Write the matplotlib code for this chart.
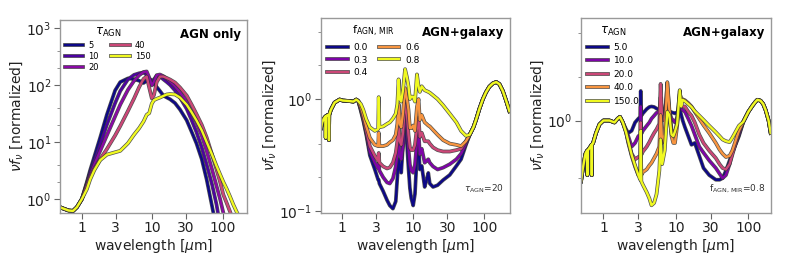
import numpy as np
import matplotlib
matplotlib.use("Agg")
import matplotlib.pyplot as plt
import matplotlib.patheffects as pe
from matplotlib.ticker import LogLocator, FixedLocator, FixedFormatter, NullLocator

# ---------------- Panel 1: AGN only ----------------
p1_labels = ["5", "10", "20", "40", "150"]
p1_wl = [0.49, 0.55, 0.65, 0.75, 0.85, 1.0, 1.18, 1.31, 1.5, 1.82, 2.26, 2.96, 3.5, 4.5, 5.5,
         6.5, 7.5, 8.3, 9.0, 9.8, 10.5, 11.5, 12.8, 14.3, 16, 17.8, 20.9, 24.6, 30.6, 36,
         42, 50, 58.7, 70, 81, 91, 101, 113, 126, 140, 156, 175]
p1_tau5 = [0.72, 0.68, 0.63, 0.62, 0.72, 1.0, 2.0, 3.2, 5.5, 12, 30, 80, 112, 130, 126,
           118, 108, 118, 128, 120, 105, 92, 78, 65, 60, 56, 48, 37, 24, 15,
           9.5, 5.0, 2.2, 0.75, 0.3, 0.12, 0.05, 0.03, 0.02, 0.01, 0.01, 0.01]
p1_tau10 = [0.72, 0.68, 0.63, 0.62, 0.72, 1.0, 1.9, 2.9, 4.6, 9, 20, 48, 78, 125, 150,
            160, 165, 150, 118, 108, 125, 145, 140, 125, 112, 100, 80, 60, 38, 24,
            15, 8, 4, 1.8, 0.8, 0.35, 0.15, 0.08, 0.04, 0.02, 0.01, 0.01]
p1_tau20 = [0.72, 0.68, 0.63, 0.62, 0.72, 1.0, 1.8, 2.6, 4.0, 7, 13, 28, 45, 82, 118,
            148, 168, 172, 135, 98, 112, 148, 152, 142, 128, 115, 95, 75, 50, 33,
            22, 13, 7, 3.3, 1.7, 1.0, 0.58, 0.3, 0.15, 0.08, 0.04, 0.02]
p1_tau40 = [0.72, 0.68, 0.63, 0.62, 0.72, 1.0, 1.7, 2.4, 3.4, 5.0, 7.5, 13, 19, 35, 58,
            92, 128, 140, 90, 58, 66, 112, 140, 140, 132, 124, 110, 90, 65, 45,
            31, 20, 12, 6, 3.3, 2.0, 1.2, 0.85, 0.6, 0.42, 0.25, 0.15]
p1_tau150 = [0.72, 0.68, 0.63, 0.62, 0.72, 1.0, 1.5, 2.2, 3.2, 4.8, 6.0, 6.6, 7.0, 9.5, 13.5,
             17.5, 23, 30, 32, 47, 54, 57, 60, 64, 68, 69, 68, 60, 45, 33,
             24, 16, 10, 6, 3.8, 2.7, 2.0, 1.5, 1.1, 0.8, 0.6, 0.45]

# ---------------- Panel 2: AGN+galaxy, tau=20, varying f_AGN,MIR ----------------
p2_labels = ["0.0", "0.3", "0.4", "0.6", "0.8"]
p2_wl_blue = [0.51, 0.53, 0.56, 0.59, 0.595, 0.60, 0.63, 0.655, 0.66, 0.665, 0.70, 0.79,
              0.93, 1.03, 1.28, 1.45, 1.59, 1.7]
p2_v_blue = [0.55, 0.62, 0.67, 0.70, 0.45, 0.70, 0.72, 0.72, 0.43, 0.72, 0.80, 0.93,
             0.99, 0.97, 0.96, 0.95, 0.99, 0.96]
p2_wl_mid = [1.85, 2.0, 2.2, 2.47, 2.9, 3.23, 3.29, 3.36, 3.8, 4.3, 4.7, 5.2, 5.7, 6.0,
             6.25, 6.5, 6.8, 7.2, 7.7, 8.2, 8.6, 9.0, 9.4, 10.0, 10.6, 11.3, 11.9, 12.4,
             13.2, 14.5, 15.4, 16.3, 17.1, 19, 22, 26.3, 32.6, 40.4, 47, 55]
p2_f00 = [0.78, 0.64, 0.48, 0.314, 0.235, 0.19, 0.19, 0.176, 0.15, 0.125, 0.112, 0.105, 0.122, 0.2,
          0.29, 0.24, 0.22, 0.39, 0.6, 0.39, 0.24, 0.16, 0.13, 0.112, 0.142, 0.314, 0.39, 0.235,
          0.253, 0.164, 0.189, 0.219, 0.176, 0.164, 0.17, 0.189, 0.21, 0.253, 0.29, 0.39]
p2_f03 = [0.80, 0.66, 0.50, 0.34, 0.27, 0.24, 0.27, 0.23, 0.20, 0.18, 0.176, 0.195, 0.25, 0.32,
          0.42, 0.32, 0.29, 0.38, 0.78, 0.55, 0.36, 0.26, 0.23, 0.22, 0.26, 0.42, 0.52, 0.32,
          0.36, 0.27, 0.28, 0.29, 0.27, 0.25, 0.235, 0.244, 0.262, 0.29, 0.325, 0.40]
p2_f04 = [0.82, 0.68, 0.52, 0.38, 0.31, 0.28, 0.33, 0.27, 0.25, 0.24, 0.245, 0.27, 0.33, 0.42,
          0.56, 0.42, 0.39, 0.50, 0.95, 0.72, 0.48, 0.37, 0.35, 0.35, 0.39, 0.56, 0.68, 0.46,
          0.50, 0.42, 0.42, 0.42, 0.40, 0.37, 0.35, 0.34, 0.34, 0.35, 0.36, 0.42]
p2_f06 = [0.85, 0.72, 0.57, 0.45, 0.39, 0.38, 0.50, 0.38, 0.38, 0.39, 0.41, 0.43, 0.48, 0.60,
          0.90, 0.60, 0.56, 0.75, 1.25, 1.00, 0.80, 0.55, 0.55, 0.58, 0.52, 0.85, 1.00, 0.65,
          0.72, 0.62, 0.60, 0.58, 0.57, 0.53, 0.48, 0.43, 0.40, 0.39, 0.38, 0.42]
p2_f08 = [0.90, 0.80, 0.66, 0.56, 0.52, 0.54, 1.04, 0.56, 0.57, 0.60, 0.62, 0.67, 0.74, 0.90,
          1.50, 1.00, 0.95, 1.20, 1.85, 1.55, 1.30, 1.00, 1.05, 1.05, 0.95, 1.66, 1.30, 1.16,
          1.30, 1.20, 1.18, 1.16, 1.14, 1.08, 1.00, 0.88, 0.74, 0.62, 0.52, 0.47]
p2_wl_red = [62, 70, 76, 85, 95, 105, 117, 131, 146, 162, 181, 200, 224]
p2_v_red = [0.48, 0.56, 0.65, 0.82, 1.0, 1.15, 1.29, 1.38, 1.42, 1.36, 1.18, 0.98, 0.78]

# ---------------- Panel 3: AGN+galaxy, f=0.8, varying tau ----------------
p3_labels = ["5.0", "10.0", "20.0", "40.0", "150.0"]
p3_wl_blue = [0.49, 0.52, 0.565, 0.595, 0.60, 0.605, 0.66, 0.685, 0.69, 0.695, 0.72, 0.79,
              0.88, 1.0, 1.21, 1.42, 1.57, 1.69, 1.85]
p3_v_blue = [0.38, 0.47, 0.59, 0.62, 0.42, 0.62, 0.66, 0.68, 0.42, 0.68, 0.70, 0.82,
             0.94, 1.0, 1.0, 0.97, 1.03, 1.06, 0.97]
p3_wl_mid = [2.05, 2.2, 2.45, 2.73, 3.03, 3.22, 3.27, 3.33, 3.5, 3.95, 4.3, 4.6, 5.0, 5.4,
             5.9, 6.15, 6.45, 7.0, 7.6, 8.1, 8.7, 9.2, 9.7, 10.4, 11.3, 11.8, 12.4, 13.3,
             14.8, 16.4, 18.2, 21, 24, 28.8, 35.5, 40, 44, 49, 55, 60, 74]
p3_t5 = [0.87, 0.82, 0.85, 0.97, 1.03, 1.06, 1.6, 1.08, 1.12, 1.2, 1.24, 1.25, 1.24, 1.21,
         1.18, 1.17, 1.15, 1.14, 1.18, 1.16, 1.14, 1.13, 1.12, 1.14, 1.2, 1.1, 1.0, 0.9,
         0.78, 0.68, 0.70, 0.57, 0.47, 0.42, 0.39, 0.39, 0.40, 0.45, 0.53, 0.60, 0.78]
p3_t10 = [0.85, 0.78, 0.66, 0.70, 0.78, 0.80, 1.25, 0.81, 0.85, 0.92, 0.97, 1.03, 1.08, 1.13,
          1.15, 1.45, 1.10, 1.15, 1.50, 1.15, 1.03, 1.00, 0.97, 1.05, 1.36, 1.22, 1.18, 1.15,
          1.03, 0.92, 0.80, 0.66, 0.60, 0.53, 0.47, 0.43, 0.40, 0.42, 0.50, 0.60, 0.80]
p3_t20 = [0.84, 0.72, 0.59, 0.54, 0.56, 0.57, 0.97, 0.58, 0.61, 0.66, 0.71, 0.76, 0.82, 0.87,
          0.95, 1.79, 1.00, 1.03, 1.79, 1.15, 0.87, 0.82, 0.80, 1.00, 1.60, 1.25, 1.25, 1.25,
          1.15, 1.08, 0.97, 0.80, 0.70, 0.62, 0.55, 0.50, 0.47, 0.46, 0.50, 0.58, 0.83]
p3_t40 = [0.83, 0.70, 0.57, 0.48, 0.42, 0.41, 0.70, 0.42, 0.44, 0.46, 0.49, 0.51, 0.55, 0.59,
          0.66, 1.09, 0.70, 0.80, 1.84, 1.21, 0.78, 0.70, 0.70, 0.92, 1.52, 1.43, 1.40, 1.38,
          1.32, 1.25, 1.15, 1.03, 0.93, 0.82, 0.70, 0.63, 0.59, 0.56, 0.57, 0.62, 0.85]
p3_t150 = [0.83, 0.72, 0.58, 0.49, 0.42, 0.39, 0.85, 0.38, 0.36, 0.32, 0.29, 0.26, 0.27, 0.31,
           0.45, 0.74, 0.50, 0.62, 1.15, 1.09, 0.80, 0.78, 0.84, 0.95, 1.62, 1.25, 1.39, 1.36,
           1.30, 1.24, 1.16, 1.08, 1.01, 0.92, 0.83, 0.78, 0.74, 0.72, 0.71, 0.76, 0.92]
p3_wl_red = [85, 92, 100, 113, 124, 133, 147, 160, 173, 190, 203]
p3_v_red = [0.98, 1.06, 1.15, 1.26, 1.34, 1.39, 1.37, 1.30, 1.18, 1.00, 0.82]

# ---------------- styling ----------------
plt.rcParams['font.family'] = ['DejaVu Sans']
c1 = ['#0d0887', '#4c02a1', '#8a09a5', '#cc4778', '#f0f921']
c5 = ['#0d0887', '#7e03a8', '#cc4778', '#f89540', '#f0f921']
stroke = [pe.Stroke(linewidth=2.7, foreground='0.2', alpha=0.85), pe.Normal()]
LW = 1.7

fig = plt.figure(figsize=(7.89, 2.63), dpi=100)
ax1 = fig.add_axes([60/789, 1-213/263, 187/789, 193/263])
ax2 = fig.add_axes([321/789, 1-213/263, 189/789, 195/263])
ax3 = fig.add_axes([581/789, 1-213/263, 190/789, 195/263])


def style(ax, xlim, ylim):
    ax.set_xscale('log')
    ax.set_yscale('log')
    ax.set_xlim(*xlim)
    ax.set_ylim(*ylim)
    ax.xaxis.set_major_locator(FixedLocator([1, 3, 10, 30, 100]))
    ax.xaxis.set_major_formatter(FixedFormatter(['1', '3', '10', '30', '100']))
    ax.xaxis.set_minor_locator(NullLocator())
    ax.yaxis.set_minor_locator(LogLocator(base=10, subs=(2.0, 4.0)))
    ax.yaxis.set_minor_formatter(plt.NullFormatter())
    for s in ax.spines.values():
        s.set_color('0.6')
        s.set_linewidth(1.0)
    ax.tick_params(axis='both', which='major', labelsize=10, length=4, color='0.4',
                   labelcolor='#222222', pad=2)
    ax.tick_params(axis='y', which='minor', length=2, color='0.5')
    ax.set_xlabel(r'wavelength [$\mu$m]', fontsize=10, color='#222222', labelpad=1)
    ax.set_ylabel(r'$\nu f_\nu$ [normalized]', fontsize=10, color='#222222', labelpad=1)


# panel 1
for vals, lab, col in zip([p1_tau5, p1_tau10, p1_tau20, p1_tau40, p1_tau150], p1_labels, c1):
    ax1.plot(p1_wl, vals, color=col, lw=LW, label=lab, path_effects=stroke)
style(ax1, (0.49, 219), (0.57, 1370))
ax1.text(0.97, 0.96, 'AGN only', transform=ax1.transAxes, ha='right', va='top',
         fontsize=8.5, fontweight='bold')
ax1.legend(loc='upper left', ncol=2, frameon=False, fontsize=6, title=r'$\tau_{\rm AGN}$',
           title_fontsize=8.5, handlelength=2.2, labelspacing=0.25, columnspacing=1.5,
           borderaxespad=0.2, handletextpad=0.6)

# panel 2
for vals, lab, col in zip([p2_f00, p2_f03, p2_f04, p2_f06, p2_f08], p2_labels, c5):
    wl = p2_wl_blue + p2_wl_mid + p2_wl_red
    vv = p2_v_blue + vals + p2_v_red
    ax2.plot(wl, vv, color=col, lw=LW, label=lab, path_effects=stroke)
style(ax2, (0.51, 228), (0.096, 5.3))
ax2.text(0.97, 0.96, 'AGN+galaxy', transform=ax2.transAxes, ha='right', va='top',
         fontsize=8.5, fontweight='bold')
ax2.text(0.97, 0.09, r'$\tau_{\rm AGN}$=20', transform=ax2.transAxes, ha='right', va='bottom',
         fontsize=6.5, color='#333333')
ax2.legend(loc='upper left', ncol=2, frameon=False, fontsize=6.5,
           title=r'f$_{\rm AGN,\,MIR}$', title_fontsize=8,
           handlelength=2.3, labelspacing=0.4, columnspacing=1.2,
           borderaxespad=0.3, handletextpad=0.6)

# panel 3
for vals, lab, col in zip([p3_t5, p3_t10, p3_t20, p3_t40, p3_t150], p3_labels, c5):
    wl = p3_wl_blue + p3_wl_mid + p3_wl_red
    vv = p3_v_blue + vals + p3_v_red
    ax3.plot(wl, vv, color=col, lw=LW, label=lab, path_effects=stroke)
style(ax3, (0.49, 205), (0.23, 5.1))
ax3.text(0.97, 0.96, 'AGN+galaxy', transform=ax3.transAxes, ha='right', va='top',
         fontsize=8.5, fontweight='bold')
ax3.text(0.97, 0.09, r'f$_{\rm AGN,\,MIR}$=0.8', transform=ax3.transAxes, ha='right',
         va='bottom', fontsize=6.5, color='#333333')
ax3.legend(loc='upper left', ncol=1, frameon=False, fontsize=6.5, title=r'$\tau_{\rm AGN}$',
           title_fontsize=8.5, handlelength=2.3, labelspacing=0.5,
           borderaxespad=0.3, handletextpad=0.6)

fig.savefig('out.png', dpi=100)
